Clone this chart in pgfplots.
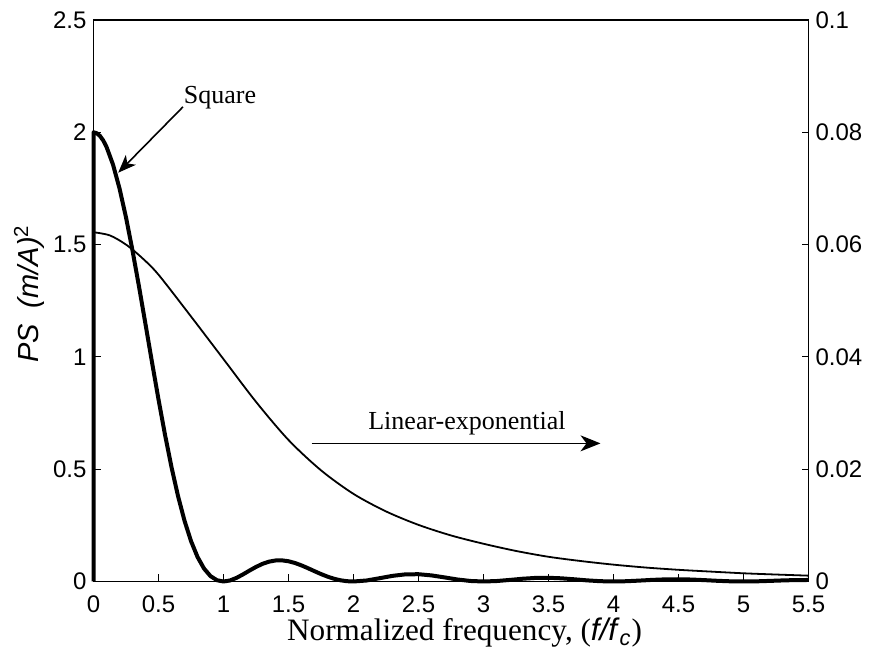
\documentclass[border=0pt]{standalone}
\usepackage{pgfplots}
\pgfplotsset{compat=1.18}
\usepackage{fontspec}
\setmainfont{Liberation Serif}
\setsansfont{Liberation Sans}
\usetikzlibrary{arrows.meta}
\begin{document}
\begin{tikzpicture}
\pgfplotsset{
  every axis/.append style={
    scale only axis, width=357.5pt, height=280.75pt,
    xmin=0, xmax=5.5,
    tick align=inside,
    major tick length=3.5pt,
    axis line style={line width=0.8pt},
    every tick/.style={black, line width=0.5pt},
    tick label style={font=\sffamily\fontsize{12}{14}\selectfont},
    /pgf/number format/assume math mode=true,
  }
}
\begin{axis}[
  name=ax,
  ymin=0, ymax=2.5,
  xtick={0,0.5,...,5.5},
  ytick={0,0.5,...,2.5},
  xtick pos=bottom, ytick pos=left,
  xticklabel style={/pgf/number format/fixed, yshift=-3.5pt},
  yticklabel style={/pgf/number format/fixed},
  clip=false,
  xlabel={\fontsize{15.6}{18}\selectfont Normalized frequency, (\textsf{\textit{f/f}\textsubscript{\textit{c}}})},
  xlabel style={at={(axis description cs:0.519,0)}, anchor=base, yshift=-29.75pt},
  ylabel={\sffamily\fontsize{14.5}{16}\selectfont\textit{PS}\ \ \textit{(m/A)}\textsuperscript{2}},
  ylabel style={at={(axis description cs:-0.09,0.512)}, anchor=center},
]
\addplot[black, line width=2pt, line join=round] coordinates {
(0,0) (0,2.0) (0.025,1.9959) (0.05,1.9836) (0.075,1.9634) (0.1,1.9351) (0.15,1.8563) (0.2,1.7503) (0.25,1.6212)
(0.3,1.4737) (0.35,1.3133) (0.4,1.1456) (0.45,0.9762) (0.5,0.8106) (0.55,0.6535)
(0.6,0.5091) (0.65,0.3808) (0.7,0.2707) (0.75,0.1801) (0.8,0.1094) (0.85,0.0578)
(0.9,0.0239) (0.95,0.0055) (1,0) (1.05,0.0045) (1.1,0.0160) (1.15,0.0316) (1.2,0.0486)
(1.25,0.0648) (1.3,0.0785) (1.35,0.0883) (1.4,0.0935) (1.45,0.0940) (1.5,0.0901)
(1.55,0.0823) (1.6,0.0716) (1.65,0.0591) (1.7,0.0459) (1.75,0.0331) (1.8,0.0216)
(1.85,0.0122) (1.9,0.0054) (1.95,0.0013) (2,0) (2.1,0.0044) (2.2,0.0145) (2.3,0.0251)
(2.4,0.0318) (2.5,0.0324) (2.6,0.0271) (2.7,0.0182) (2.8,0.0089) (2.9,0.0023) (3,0)
(3.1,0.0020) (3.2,0.0068) (3.3,0.0122) (3.4,0.0159) (3.5,0.0165) (3.6,0.0141)
(3.7,0.0097) (3.8,0.0048) (3.9,0.0013) (4,0) (4.1,0.0012) (4.2,0.0040) (4.3,0.0072)
(4.4,0.0095) (4.5,0.0100) (4.6,0.0087) (4.7,0.0060) (4.8,0.0030) (4.9,0.0008) (5,0)
(5.1,0.0007) (5.2,0.0026) (5.3,0.0047) (5.4,0.0063) (5.5,0.0067)
};
\node[font=\fontsize{13}{15}\selectfont, anchor=base] at (axis cs:0.973,2.13) {Square};
\draw[-{Stealth[length=9pt,width=7pt,inset=2.5pt]}, line width=0.8pt] (axis cs:0.688,2.113) -- (axis cs:0.19,1.82);
\node[font=\fontsize{13}{15}\selectfont, anchor=base] at (axis cs:2.873,0.675) {Linear-exponential};
\draw[-{Stealth[length=10pt,width=8pt,inset=3pt]}, line width=0.8pt] (axis cs:1.678,0.615) -- (axis cs:3.90,0.615);
\end{axis}
\begin{axis}[
  ymin=0, ymax=0.1,
  axis x line=none,
  axis y line*=right,
  ytick={0,0.02,...,0.1},
  scaled y ticks=false,
  yticklabel style={/pgf/number format/fixed, /pgf/number format/precision=2},
]
\addplot[black, line width=0.9pt, smooth, tension=0.5] coordinates {
(0,0.0622) (0.125,0.06164) (0.25,0.06) (0.375,0.0576) (0.5,0.05464) (0.75,0.0472)
(1,0.0396) (1.25,0.032) (1.5,0.0252) (1.75,0.0198) (2,0.0156) (2.25,0.01248)
(2.5,0.01008) (2.75,0.0082) (3,0.00672) (3.25,0.00544) (3.5,0.0044) (3.75,0.00364)
(4,0.003) (4.25,0.00248) (4.5,0.00208) (4.75,0.00176) (5,0.00146) (5.25,0.00124) (5.5,0.00104)
};
\end{axis}
\pgfresetboundingbox
\useasboundingbox ([xshift=-46.75pt,yshift=-36.25pt]ax.south west) rectangle ([xshift=30.75pt,yshift=10pt]ax.north east);
\end{tikzpicture}
\end{document}
